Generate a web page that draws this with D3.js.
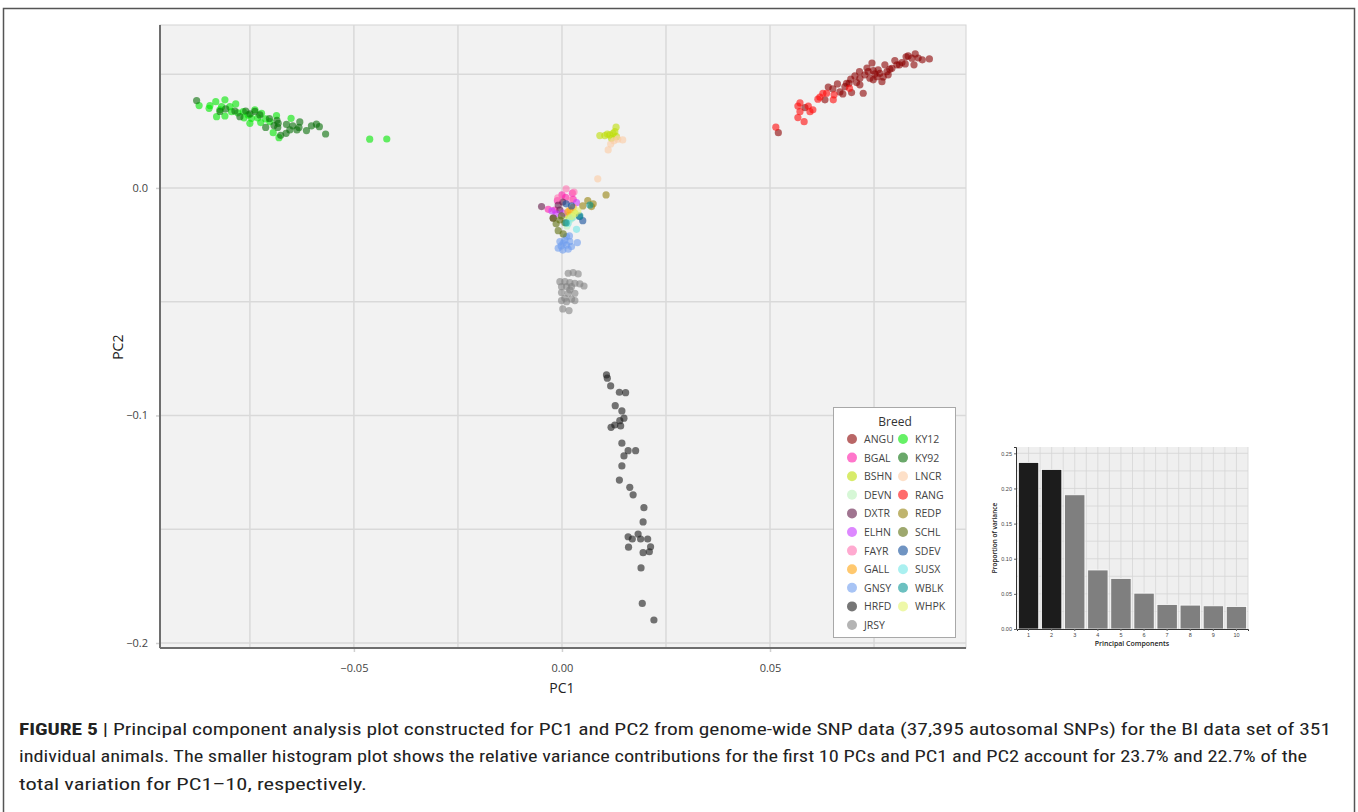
<!DOCTYPE html>
<html lang="en">

<head>
    <meta charset="UTF-8">
    <title>PCA plot - BI data set</title>
    <script src="https://d3js.org/d3.v7.min.js"></script>
    <style>
        body { margin: 0; background: #fff; }
        svg { display: block; font-family: "Open Sans", "DejaVu Sans", sans-serif; }
    </style>
</head>

<body>
    <div id="chart"></div>

    <script>
        // PC1 / PC2 scores per breed
        const ANGU = [[0.0520,0.0243],[0.0584,0.0353],[0.0632,0.0387],[0.0640,0.0443],[0.0662,0.0457],[0.0680,0.0445],
            [0.0694,0.0478],[0.0696,0.0419],[0.0708,0.0463],[0.0715,0.0511],[0.0716,0.0482],[0.0724,0.0416],[0.0736,0.0511],
            [0.0740,0.0482],[0.0752,0.0501],[0.0760,0.0519],[0.0769,0.0467],[0.0776,0.0541],[0.0784,0.0497],[0.0793,0.0526],
            [0.0800,0.0560],[0.0811,0.0541],[0.0825,0.0545],[0.0832,0.0580],[0.0846,0.0541],[0.0849,0.0589],[0.0866,0.0563],
            [0.0883,0.0567],[0.0684,0.0460],[0.0704,0.0492],[0.0728,0.0497],[0.0748,0.0516],[0.0764,0.0504],[0.0788,0.0522],
            [0.0805,0.0541],[0.0817,0.0551],[0.0841,0.0570],[0.0748,0.0475],[0.0781,0.0511],[0.0757,0.0489],[0.0690,0.0460],
            [0.0668,0.0422],[0.0651,0.0435],[0.0733,0.0527],[0.0716,0.0453],[0.0745,0.0549],[0.0827,0.0576],[0.0856,0.0571],
            [0.0772,0.0488],[0.0675,0.0413]];
        const BGAL = [[0.0025,-0.0023],[-0.0011,-0.0056],[0.0009,-0.0041],[-0.0033,-0.0094],[-0.0017,-0.0097],[0.0027,-0.0050],[0.0000,-0.0031]];
        const BSHN = [[0.0091,0.0230],[0.0103,0.0230],[0.0115,0.0233],[0.0123,0.0240],[0.0130,0.0267],[0.0127,0.0247],
            [0.0119,0.0218],[0.0131,0.0225],[0.0109,0.0237],[0.0031,-0.0111],[0.0015,-0.0123]];
        const DEVN = [[0.0019,-0.0141],[0.0027,-0.0129],[0.0012,-0.0167]];
        const DXTR = [[-0.0049,-0.0082],[-0.0009,-0.0075],[-0.0005,-0.0097],[-0.0021,-0.0133],[0.0002,-0.0062]];
        const ELHN = [[0.0035,-0.0065],[-0.0014,-0.0114],[0.0003,-0.0111],[-0.0024,-0.0101]];
        const FAYR = [[0.0019,-0.0053],[0.0029,-0.0018],[-0.0010,-0.0044],[0.0010,-0.0004]];
        const GALL = [[0.0019,-0.0097],[0.0027,-0.0085],[0.0014,-0.0105]];
        const GNSY = [[0.0018,-0.0211],[-0.0005,-0.0236],[0.0003,-0.0243],[0.0011,-0.0251],[0.0019,-0.0236],[-0.0009,-0.0265],
            [0.0002,-0.0273],[0.0015,-0.0269],[0.0037,-0.0240],[0.0007,-0.0229],[-0.0002,-0.0255],[0.0023,-0.0258],[0.0011,-0.0214]];
        const HRFD = [[0.0107,-0.0822],[0.0109,-0.0836],[0.0117,-0.0870],[0.0138,-0.0898],[0.0153,-0.0900],[0.0128,-0.0957],
            [0.0144,-0.0980],[0.0149,-0.1012],[0.0139,-0.1023],[0.0127,-0.1042],[0.0118,-0.1052],[0.0141,-0.1046],[0.0144,-0.1122],
            [0.0159,-0.1155],[0.0177,-0.1155],[0.0149,-0.1178],[0.0144,-0.1222],[0.0138,-0.1284],[0.0163,-0.1316],[0.0171,-0.1349],
            [0.0197,-0.1405],[0.0195,-0.1468],[0.0159,-0.1533],[0.0169,-0.1543],[0.0183,-0.1521],[0.0189,-0.1543],[0.0206,-0.1543],
            [0.0213,-0.1577],[0.0160,-0.1579],[0.0195,-0.1603],[0.0210,-0.1599],[0.0190,-0.1670],[0.0193,-0.1826],[0.0221,-0.1899]];
        const JRSY = [[0.0015,-0.0375],[0.0027,-0.0372],[0.0039,-0.0378],[-0.0005,-0.0412],[0.0007,-0.0412],[0.0019,-0.0416],
            [0.0031,-0.0419],[0.0043,-0.0422],[0.0053,-0.0431],[-0.0001,-0.0434],[0.0011,-0.0434],[0.0023,-0.0434],[-0.0001,-0.0460],
            [0.0015,-0.0463],[0.0031,-0.0463],[0.0007,-0.0485],[0.0023,-0.0489],[-0.0001,-0.0495],[0.0011,-0.0500],[0.0031,-0.0495],
            [0.0002,-0.0532],[0.0017,-0.0539],[0.0019,-0.0448]];
        const KY12 = [[-0.0872,0.0362],[-0.0846,0.0362],[-0.0832,0.0379],[-0.0810,0.0387],[-0.0798,0.0357],[-0.0830,0.0313],
            [-0.0810,0.0316],[-0.0794,0.0335],[-0.0766,0.0335],[-0.0754,0.0321],[-0.0750,0.0284],[-0.0746,0.0306],[-0.0722,0.0328],
            [-0.0724,0.0287],[-0.0702,0.0291],[-0.0686,0.0318],[-0.0651,0.0306],[-0.0694,0.0243],[-0.0680,0.0221],[-0.0462,0.0214],
            [-0.0421,0.0215],[-0.0848,0.0350],[-0.0818,0.0357],[-0.0784,0.0369],[-0.0779,0.0330],[-0.0738,0.0343],[-0.0712,0.0303],
            [-0.0822,0.0343],[-0.0764,0.0308],[-0.0731,0.0308]];
        const KY92 = [[-0.0878,0.0384],[-0.0822,0.0336],[-0.0786,0.0338],[-0.0774,0.0313],[-0.0738,0.0336],[-0.0726,0.0321],
            [-0.0703,0.0305],[-0.0685,0.0297],[-0.0682,0.0284],[-0.0712,0.0266],[-0.0692,0.0274],[-0.0662,0.0279],[-0.0647,0.0273],
            [-0.0632,0.0266],[-0.0637,0.0255],[-0.0614,0.0252],[-0.0602,0.0273],[-0.0590,0.0280],[-0.0583,0.0269],[-0.0568,0.0237],
            [-0.0663,0.0240],[-0.0676,0.0231],[-0.0750,0.0325],[-0.0760,0.0338],[-0.0683,0.0266],[-0.0808,0.0347],[-0.0630,0.0290],
            [-0.0654,0.0255]];
        const LNCR = [[0.0146,0.0211],[0.0134,0.0214],[0.0117,0.0193],[0.0111,0.0167],[0.0086,0.0040],[0.0125,0.0207]];
        const RANG = [[0.0514,0.0267],[0.0567,0.0360],[0.0572,0.0335],[0.0592,0.0360],[0.0596,0.0335],[0.0567,0.0309],
            [0.0582,0.0291],[0.0615,0.0390],[0.0627,0.0416],[0.0652,0.0387],[0.0654,0.0409],[0.0691,0.0438],[0.0636,0.0416],
            [0.0620,0.0399],[0.0572,0.0374],[0.0603,0.0343]];
        const REDP = [[0.0106,-0.0031],[0.0062,-0.0056],[0.0050,-0.0079],[0.0075,-0.0070],[0.0071,-0.0082]];
        const SCHL = [[-0.0021,-0.0133],[-0.0005,-0.0141],[0.0007,-0.0153],[-0.0009,-0.0188],[0.0003,-0.0202],[-0.0001,-0.0123],[-0.0014,-0.0158]];
        const SDEV = [[0.0023,-0.0079],[0.0050,-0.0144],[0.0042,-0.0126],[0.0010,-0.0070]];
        const SUSX = [[0.0035,-0.0182],[0.0015,-0.0155],[0.0024,-0.0132]];
        const WBLK = [[0.0067,-0.0075],[0.0043,-0.0123],[0.0010,-0.0154]];
        const WHPK = [[0.0031,-0.0114],[0.0023,-0.0126],[0.0038,-0.0101]];

        const breedNames = ["ANGU", "BGAL", "BSHN", "DEVN", "DXTR", "ELHN", "FAYR", "GALL", "GNSY", "HRFD", "JRSY",
            "KY12", "KY92", "LNCR", "RANG", "REDP", "SCHL", "SDEV", "SUSX", "WBLK", "WHPK"];
        const breedPoints = [ANGU, BGAL, BSHN, DEVN, DXTR, ELHN, FAYR, GALL, GNSY, HRFD, JRSY,
            KY12, KY92, LNCR, RANG, REDP, SCHL, SDEV, SUSX, WBLK, WHPK];
        const breedColors = ["#8b0000", "#ff1aa8", "#bede07", "#bbf2bb", "#611746", "#c639ff", "#ff71b1", "#ffa40d",
            "#6e9dee", "#1a1a1a", "#828282", "#00e800", "#076e07", "#fccba3", "#ff0808", "#94820d", "#5d6e0d",
            "#114d99", "#71e6e6", "#0a9696", "#e3f36e"];

        // scree plot
        const pcLabels = ["1", "2", "3", "4", "5", "6", "7", "8", "9", "10"];
        const pcVariance = [0.237, 0.227, 0.191, 0.084, 0.072, 0.051, 0.035, 0.034, 0.033, 0.032];

        const captionLines = [
            "Principal component analysis plot constructed for PC1 and PC2 from genome-wide SNP data (37,395 autosomal SNPs) for the BI data set of 351",
            "individual animals. The smaller histogram plot shows the relative variance contributions for the first 10 PCs and PC1 and PC2 account for 23.7% and 22.7% of the",
            "total variation for PC1\u201310, respectively."
        ];

        const width = 1358;
        const height = 812;
        const alpha = 0.6;

        const svg = d3.select("#chart")
            .append("svg")
            .attr("width", width)
            .attr("height", height);

        // figure frame
        svg.append("rect")
            .attr("x", 3.5).attr("y", 8.5)
            .attr("width", 1351).attr("height", 900)
            .attr("fill", "none")
            .attr("stroke", "#555")
            .attr("stroke-width", 1.5);

        // ---------- main PCA scatter ----------
        const plot = { left: 160, right: 966, top: 25, bottom: 648 };

        const x = d3.scaleLinear().domain([-0.0966, 0.0971]).range([plot.left, plot.right]);
        const y = d3.scaleLinear().domain([-0.2022, 0.0716]).range([plot.bottom, plot.top]);

        svg.append("rect")
            .attr("x", plot.left).attr("y", plot.top)
            .attr("width", plot.right - plot.left).attr("height", plot.bottom - plot.top)
            .attr("fill", "#f2f2f2")
            .attr("stroke", "#d4d4d4");

        const grid = svg.append("g").attr("stroke", "#d9d9d9").attr("stroke-width", 1.5);
        grid.selectAll("line.vx")
            .data([-0.075, -0.05, -0.025, 0, 0.025, 0.05, 0.075])
            .join("line")
            .attr("x1", d => x(d)).attr("x2", d => x(d))
            .attr("y1", plot.top).attr("y2", plot.bottom);
        grid.selectAll("line.hy")
            .data([-0.2, -0.15, -0.1, -0.05, 0, 0.05])
            .join("line")
            .attr("class", "hy")
            .attr("x1", plot.left).attr("x2", plot.right)
            .attr("y1", d => y(d)).attr("y2", d => y(d));

        const xAxis = svg.append("g")
            .attr("transform", `translate(0, ${plot.bottom})`)
            .call(d3.axisBottom(x).tickValues([-0.05, 0, 0.05]).tickFormat(d3.format(".2f")).tickSize(4).tickPadding(12));
        const yAxis = svg.append("g")
            .attr("transform", `translate(${plot.left}, 0)`)
            .call(d3.axisLeft(y).tickValues([-0.2, -0.1, 0]).tickFormat(d3.format(".1f")).tickSize(4).tickPadding(8));
        [xAxis, yAxis].forEach(g => {
            g.select(".domain").remove();
            g.selectAll(".tick line").attr("stroke", "#d0d0d0").attr("stroke-width", 1.5);
            g.selectAll(".tick text").attr("fill", "#444").style("font-size", "11px")
                .style("font-family", "'Open Sans', sans-serif");
        });

        // axis lines (left and bottom drawn darker)
        svg.append("line")
            .attr("x1", plot.left).attr("x2", plot.left)
            .attr("y1", plot.top).attr("y2", plot.bottom)
            .attr("stroke", "#6e6e6e").attr("stroke-width", 2);
        svg.append("line")
            .attr("x1", plot.left).attr("x2", plot.right)
            .attr("y1", plot.bottom).attr("y2", plot.bottom)
            .attr("stroke", "#6e6e6e").attr("stroke-width", 2);

        svg.append("text")
            .attr("x", x(0)).attr("y", 693)
            .attr("text-anchor", "middle")
            .attr("fill", "#222")
            .style("font-size", "14px")
            .text("PC1");
        svg.append("text")
            .attr("transform", `translate(123, ${y(-0.07)}) rotate(-90)`)
            .attr("text-anchor", "middle")
            .attr("fill", "#222")
            .style("font-size", "14px")
            .text("PC2");

        const dots = svg.append("g");
        breedNames.forEach((name, i) => {
            dots.append("g")
                .selectAll("circle")
                .data(breedPoints[i])
                .join("circle")
                .attr("cx", d => x(d[0]))
                .attr("cy", d => y(d[1]))
                .attr("r", 3.6)
                .attr("fill", breedColors[i])
                .attr("fill-opacity", alpha);
        });

        // legend
        const legend = svg.append("g");
        legend.append("rect")
            .attr("x", 833.5).attr("y", 407.5)
            .attr("width", 122).attr("height", 230)
            .attr("fill", "#fff")
            .attr("stroke", "#a8a8a8");
        legend.append("text")
            .attr("x", 895).attr("y", 426)
            .attr("text-anchor", "middle")
            .attr("fill", "#333")
            .style("font-size", "12px")
            .text("Breed");
        const rowsPerCol = 11;
        breedNames.forEach((name, i) => {
            const col = Math.floor(i / rowsPerCol);
            const row = i % rowsPerCol;
            const cx = 852 + col * 51;
            const cy = 439 + row * 18.6;
            legend.append("circle")
                .attr("cx", cx).attr("cy", cy).attr("r", 5)
                .attr("fill", breedColors[i])
                .attr("fill-opacity", alpha);
            legend.append("text")
                .attr("x", cx + 12).attr("y", cy + 4)
                .attr("fill", "#444")
                .style("font-size", "10.5px")
                .text(name);
        });

        // ---------- scree plot (inset) ----------
        const hist = { left: 1016, right: 1248, top: 447, bottom: 629 };
        const xb = d3.scaleBand().domain(pcLabels).range([hist.left + 1, hist.right]).paddingInner(0.12).paddingOuter(0.06);
        const yb = d3.scaleLinear().domain([0, 0.259]).range([hist.bottom, hist.top]);

        svg.append("rect")
            .attr("x", hist.left).attr("y", hist.top)
            .attr("width", hist.right - hist.left).attr("height", hist.bottom - hist.top)
            .attr("fill", "#efefef");

        const hgrid = svg.append("g").attr("stroke", "#d6d6d6").attr("stroke-width", 0.8);
        const vLines = [];
        pcLabels.forEach(p => {
            vLines.push(xb(p) + xb.bandwidth() / 2);
            vLines.push(xb(p) + xb.bandwidth() + xb.step() * xb.paddingInner() / 2);
        });
        hgrid.selectAll("line.v")
            .data(vLines)
            .join("line")
            .attr("x1", d => d).attr("x2", d => d)
            .attr("y1", hist.top).attr("y2", hist.bottom);
        hgrid.selectAll("line.h")
            .data(d3.range(0.025, 0.26, 0.025))
            .join("line")
            .attr("class", "h")
            .attr("x1", hist.left).attr("x2", hist.right)
            .attr("y1", d => yb(d)).attr("y2", d => yb(d));

        svg.append("g")
            .selectAll("rect")
            .data(pcVariance)
            .join("rect")
            .attr("x", (d, i) => xb(pcLabels[i]))
            .attr("y", d => yb(d))
            .attr("width", xb.bandwidth())
            .attr("height", d => hist.bottom - yb(d))
            .attr("fill", (d, i) => i < 2 ? "#1c1c1c" : "#7f7f7f")
            .attr("stroke", "#fff")
            .attr("stroke-width", 0.8);

        const xbAxis = svg.append("g")
            .attr("transform", `translate(0, ${hist.bottom})`)
            .call(d3.axisBottom(xb).tickSize(2).tickPadding(2));
        const ybAxis = svg.append("g")
            .attr("transform", `translate(${hist.left}, 0)`)
            .call(d3.axisLeft(yb).tickValues([0, 0.05, 0.1, 0.15, 0.2, 0.25]).tickFormat(d3.format(".2f")).tickSize(2).tickPadding(2));
        [xbAxis, ybAxis].forEach(g => {
            g.select(".domain").attr("stroke", "#333").attr("stroke-width", 1);
            g.selectAll(".tick line").attr("stroke", "#666");
            g.selectAll(".tick text").attr("fill", "#444").style("font-size", "5.5px");
        });

        svg.append("text")
            .attr("x", (hist.left + hist.right) / 2).attr("y", 646)
            .attr("text-anchor", "middle")
            .attr("fill", "#222")
            .style("font-size", "7px")
            .style("font-weight", "600")
            .text("Principal Components");
        svg.append("text")
            .attr("transform", `translate(997, ${(hist.top + hist.bottom) / 2}) rotate(-90)`)
            .attr("text-anchor", "middle")
            .attr("fill", "#222")
            .style("font-size", "6.5px")
            .style("font-weight", "600")
            .text("Proportion of variance");

        // ---------- caption ----------
        const captionFont = "'Liberation Sans Narrow', 'Roboto Condensed', 'Liberation Sans', sans-serif";
        const lineWidths = [1312, 1288, 348];
        const baselines = [735, 762, 790];
        captionLines.forEach((line, i) => {
            const t = svg.append("text")
                .attr("x", 19).attr("y", baselines[i])
                .attr("fill", "#222")
                .attr("textLength", lineWidths[i])
                .attr("lengthAdjust", "spacingAndGlyphs")
                .style("font-family", captionFont)
                .style("font-size", "16px");
            if (i === 0) {
                t.append("tspan").style("font-weight", "bold").text("FIGURE 5");
                t.append("tspan").text(" | " + line);
            } else {
                t.text(line);
            }
        });
    </script>
</body>

</html>
